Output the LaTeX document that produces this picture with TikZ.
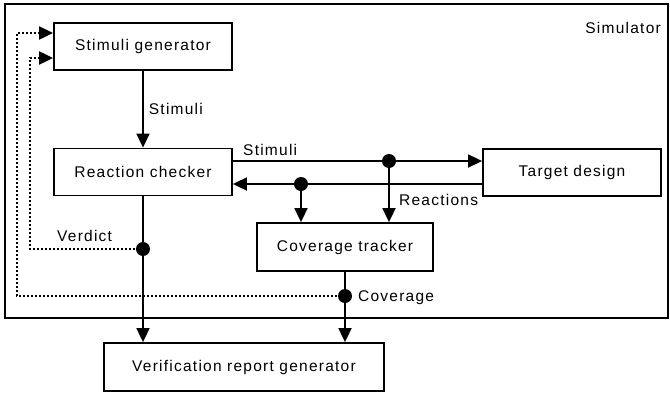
\documentclass[tikz,border=0pt]{standalone}
\usepackage{fontspec}
\setmainfont[LetterSpace=8]{Liberation Sans}
\usetikzlibrary{arrows.meta}
\tikzset{
  blk/.style={draw, line width=1.8pt, minimum width=178pt, minimum height=47pt, inner sep=0pt, font=\fontsize{15.5}{18}\selectfont},
  lbl/.style={font=\fontsize{15.5}{18}\selectfont, inner sep=1pt},
  flow/.style={line width=1.8pt, -{Triangle[length=14pt,width=13pt]}},
  fb/.style={line width=2pt, dash pattern=on 2pt off 2pt, -{Triangle[length=14pt,width=13pt]}},
  dot/.style={circle, fill, minimum size=14pt, inner sep=0pt}
}
\begin{document}
\begin{tikzpicture}[x=1pt, y=-1pt]
\useasboundingbox (0,0) rectangle (670,394);
% simulator frame
\draw[line width=1.8pt] (5,4) rectangle (668,318);
\node[lbl, anchor=base east] (sim) at (662,33) {Simulator};

% blocks
\node[blk] (sg) at (143,46.5) {Stimuli generator};
\node[blk] (rc) at (143,172) {Reaction checker};
\node[blk] (td) at (572,172.5) {Target design};
\node[blk, minimum width=176pt, minimum height=48pt] (ct) at (345,247) {Coverage tracker};
\node[blk, minimum width=280pt, minimum height=48pt] (vr) at (244,367) {Verification report generator};

% junction points
\coordinate (js) at (389,161);
\coordinate (jr) at (301,184);
\coordinate (jv) at (143,249);
\coordinate (jc) at (345,296);
\coordinate (fv) at (30,249);
\coordinate (fc) at (17,296);
\coordinate (av) at (30,58);
\coordinate (ac) at (17,33);

% stimuli from generator to checker
\draw[flow] (sg) -- node[lbl, right=4pt] (lst) {Stimuli} (rc);

% stimuli to target design
\draw[flow] (rc.east |- js) -- (td.west |- js);
\node[lbl, anchor=base west] (lst2) at (242,155) {Stimuli};
% reactions back to checker
\draw[flow] (td.west |- jr) -- (rc.east |- jr);
\node[lbl, anchor=base west] (lre) at (398,205) {Reactions};

% taps into coverage tracker
\draw[flow] (js) -- (ct.north -| js);
\draw[flow] (jr) -- (ct.north -| jr);
\node[dot] (djs) at (js) {};
\node[dot] (djr) at (jr) {};

% checker and tracker into report generator
\draw[flow] (rc.south) -- (vr.north -| rc.south);
\draw[flow] (ct.south) -- (vr.north -| ct.south);

% feedback paths
\draw[fb] (jv) -- (fv) -- (av) -- (sg.west |- av);
\draw[fb] (jc) -- (fc) -- (ac) -- (sg.west |- ac);
\node[dot] (djv) at (jv) {};
\node[dot] (djc) at (jc) {};
\node[lbl, anchor=base west] (lve) at (56,241) {Verdict};
\node[lbl, anchor=base west] (lco) at (357,301) {Coverage};
\end{tikzpicture}
\end{document}
